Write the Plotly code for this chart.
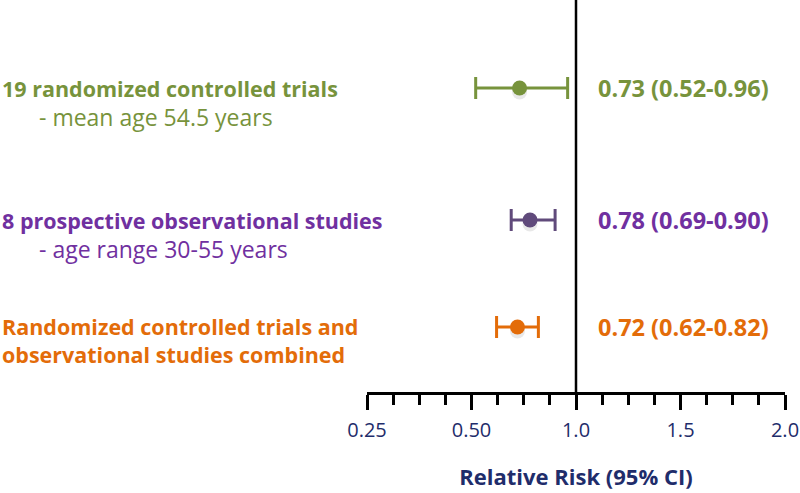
import numpy as np
import plotly.graph_objects as go

# ---------------- data ----------------
groups = ["19 randomized controlled trials",
          "8 prospective observational studies",
          "Randomized controlled trials and<br>observational studies combined"]
subtitles = ["- mean age 54.5 years", "- age range 30-55 years", ""]
rr = [0.73, 0.78, 0.72]
ci_low = [0.52, 0.69, 0.62]
ci_high = [0.96, 0.90, 0.82]
tick_values = [0.25, 0.50, 1.0, 1.5, 2.0]
tick_labels = ["0.25", "0.50", "1.0", "1.5", "2.0"]
minor_values = [0.3125, 0.375, 0.4375, 0.625, 0.75, 0.875,
                1.125, 1.25, 1.375, 1.625, 1.75, 1.875]

# ---------------- style ----------------
text_colors = ["#77933C", "#7030A0", "#E36C09"]
mark_colors = ["#77933C", "#604A7B", "#E36C09"]
navy = "#1F2D6B"
FONT = "Open Sans"
W, H = 800, 493
L, R, T, B = 367, 15, 0, 101
row_y = [304, 172, 65]          # vertical row positions (px above the axis line)
sub_dy = 29


def scale(v):
    # piecewise-linear axis: 0.25,0.5,1,1.5,2 equally spaced
    return np.interp(v, tick_values, range(len(tick_values)))


def px_to_paper(px):
    return (px - L) / (W - L - R)


fig = go.Figure()

for i in range(len(rr)):
    xc = float(scale(rr[i]))
    xl = float(scale(ci_low[i]))
    xh = float(scale(ci_high[i]))
    # soft shadow
    fig.add_trace(go.Scatter(
        x=[xc], y=[row_y[i] - 4], mode="markers",
        marker=dict(size=15, color="rgba(0,0,0,0.09)"),
        hoverinfo="skip", showlegend=False))
    fig.add_trace(go.Scatter(
        x=[xc], y=[row_y[i]], mode="markers",
        marker=dict(size=15, color=mark_colors[i], symbol="circle"),
        error_x=dict(type="data", symmetric=False,
                     array=[xh - xc], arrayminus=[xc - xl],
                     color=mark_colors[i], thickness=3, width=11),
        showlegend=False))

shapes = [dict(type="line", xref="x", yref="y", x0=float(scale(1.0)), x1=float(scale(1.0)),
               y0=0, y1=392, line=dict(color="black", width=2.5))]

annotations = []
for i in range(len(rr)):
    if subtitles[i]:
        annotations.append(dict(
            text="<b>%s</b>" % groups[i], xref="paper", yref="y",
            x=px_to_paper(0), y=row_y[i], xanchor="left", yanchor="middle",
            showarrow=False, align="left",
            font=dict(family=FONT, size=21.5, color=text_colors[i])))
        annotations.append(dict(
            text=subtitles[i], xref="paper", yref="y",
            x=px_to_paper(37), y=row_y[i] - sub_dy, xanchor="left", yanchor="middle",
            showarrow=False, align="left",
            font=dict(family=FONT, size=23, color=text_colors[i])))
    else:
        annotations.append(dict(
            text="<b>%s</b>" % groups[i], xref="paper", yref="y",
            x=px_to_paper(0), y=row_y[i] - 13, xanchor="left", yanchor="middle",
            showarrow=False, align="left",
            font=dict(family=FONT, size=21.5, color=text_colors[i])))
    annotations.append(dict(
        text="<b>%.2f (%.2f-%.2f)</b>" % (rr[i], ci_low[i], ci_high[i]),
        xref="paper", yref="y", x=px_to_paper(596), y=row_y[i],
        xanchor="left", yanchor="middle", showarrow=False,
        font=dict(family=FONT, size=23.5, color=text_colors[i])))

fig.update_layout(
    width=W, height=H, margin=dict(l=L, r=R, t=T, b=B, autoexpand=False),
    paper_bgcolor="white", plot_bgcolor="white",
    shapes=shapes, annotations=annotations,
    xaxis=dict(range=[0, 4], tickmode="array", automargin=False,
               tickvals=[float(v) for v in scale(tick_values)], ticktext=tick_labels,
               showline=True, linecolor="black", linewidth=2.5,
               ticks="outside", ticklen=15, tickwidth=2.5, tickcolor="black",
               ticklabelstandoff=3,
               showgrid=False, zeroline=False,
               tickfont=dict(family=FONT, size=20, color=navy),
               minor=dict(tickmode="array", tickvals=[float(v) for v in scale(minor_values)],
                          ticks="outside", ticklen=10, tickwidth=2.5, tickcolor="black",
                          showgrid=False),
               title=dict(text="<b>Relative Risk (95% CI)</b>", standoff=28,
                          font=dict(family=FONT, size=22, color=navy))),
    yaxis=dict(range=[0, 392], visible=False, automargin=False),
)

fig.write_html("out.html", config={"displayModeBar": False},
               post_script="document.body.style.margin='0';document.body.style.padding='0';")
